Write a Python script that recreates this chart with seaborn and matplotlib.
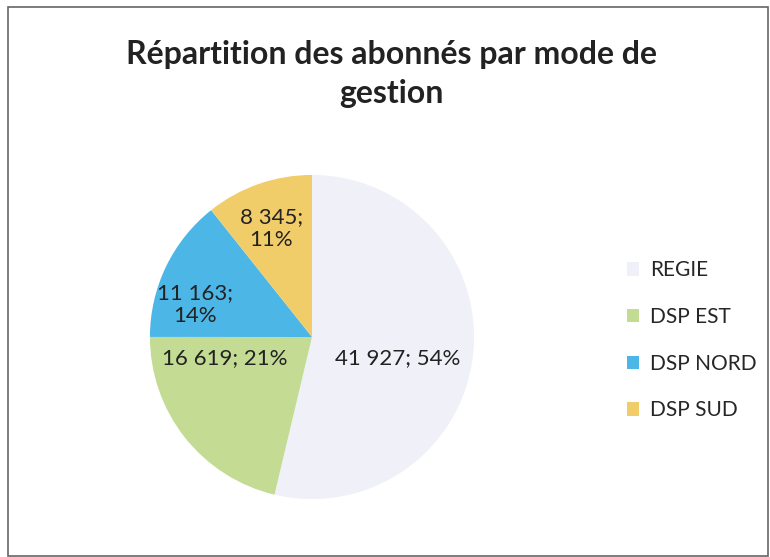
import matplotlib
matplotlib.use("Agg")
import matplotlib.pyplot as plt
import seaborn as sns
from matplotlib.patches import Rectangle

sns.set_theme(style="white")
plt.rcParams['font.family'] = ['Lato', 'DejaVu Sans']

# data
modes = ["REGIE", "DSP EST", "DSP NORD", "DSP SUD"]
abonnes = [41927, 16619, 11163, 8345]
parts = ["54%", "21%", "14%", "11%"]
labels = ["41 927; 54%", "16 619; 21%", "11 163;\n14%", "8 345;\n11%"]
colors = ["#F0F1F8", "#C3DB93", "#4CB6E6", "#F1CD6A"]
# where Excel put each data label (pie radius units)
label_pos = [(0.53, -0.13), (-0.54, -0.13), (-0.72, 0.20), (-0.25, 0.67)]

fig = plt.figure(figsize=(7.7, 5.57), dpi=100)
fig.patch.set_facecolor("white")
fig.add_artist(Rectangle((8 / 770, 0.002), 760 / 770, 1 - 7 / 557 - 0.002,
                         transform=fig.transFigure, fill=False,
                         edgecolor="#666666", linewidth=1.2))

ax = fig.add_axes([142 / 770, 50 / 557, 340 / 770, 340 / 557])
wedges, _ = ax.pie(abonnes, colors=colors, startangle=90, counterclock=False,
                   radius=1, wedgeprops=dict(linewidth=0))
ax.set_xlim(-1.049, 1.049)
ax.set_ylim(-1.049, 1.049)
ax.set_aspect("equal")
ax.axis("off")

for txt, (x, y) in zip(labels, label_pos):
    ax.text(x, y, txt, ha="center", va="center", fontsize=16,
            color="#222222", linespacing=1.15)

fig.text(391 / 770, 1 - 74 / 557, "Répartition des abonnés par mode de\ngestion",
         ha="center", va="center", fontsize=23, fontweight="bold",
         color="#222222", linespacing=1.4)

ax.legend(wedges, modes, loc="center left", bbox_to_anchor=(608 / 340 - 142 / 340, 0.49),
          frameon=False, fontsize=15, handlelength=0.6, handleheight=0.6,
          labelspacing=1.28, handletextpad=0.5)

fig.savefig("out.png", dpi=100)
